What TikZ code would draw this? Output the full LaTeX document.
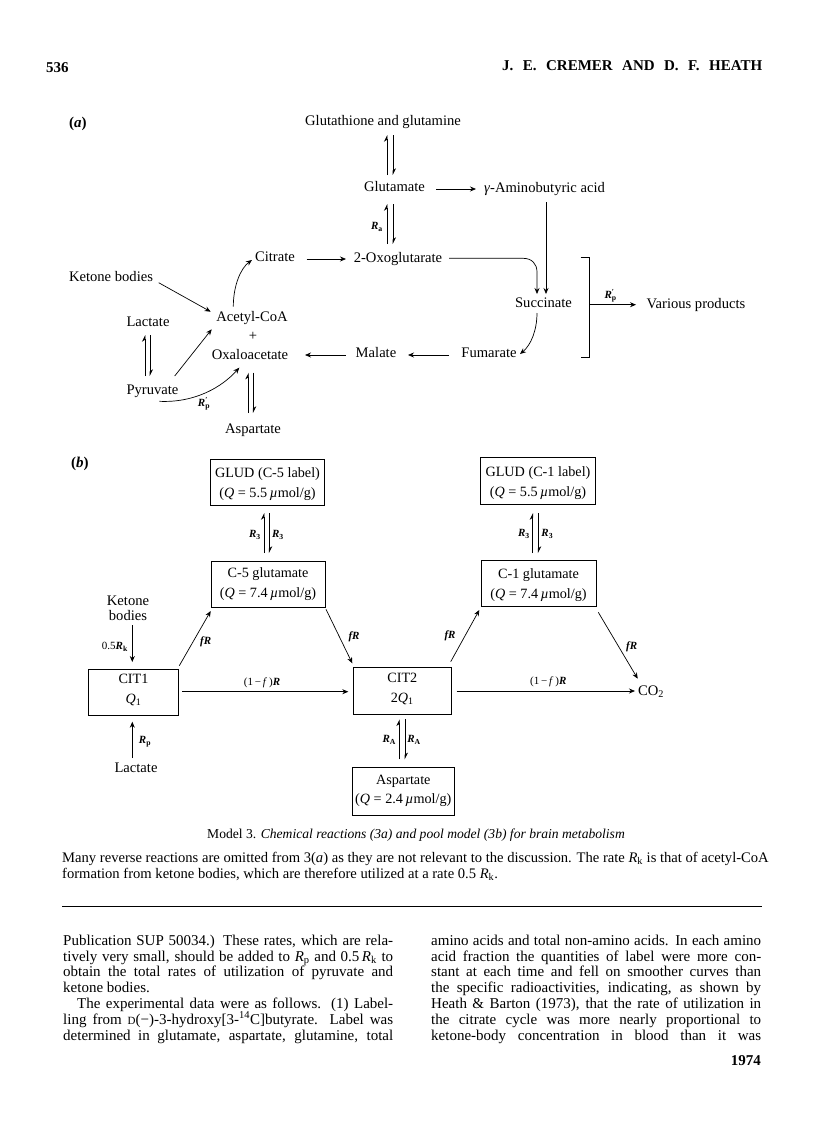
\documentclass[tikz,border=0pt]{standalone}
\usepackage{fontspec}
\setmainfont{Liberation Serif}
\usetikzlibrary{arrows.meta}
\newcommand{\Rsym}[1]{\textit{\textbf{R}}\textsubscript{\textbf{#1}}}
\newcommand{\Rpr}{\textit{\textbf{R}}\rlap{\textsuperscript{\textbf{′}}}\textsubscript{\textbf{p}}}
\newcommand{\fR}{\textit{\textbf{fR}}}
\newcommand{\oneminus}{(1\,−\,\textit{f}\,)\textit{\textbf{R}}}
\tikzset{
  x=1pt,y=-1pt,
  lbl/.style={inner sep=0pt,font=\fontsize{14.6}{15}\selectfont,text height=10pt,text depth=3pt},
  stack/.style={inner sep=0pt,font=\fontsize{14.6}{15}\selectfont,align=center},
  rate/.style={inner sep=0pt,font=\fontsize{11}{12}\selectfont},
  pool/.style={draw,line width=0.8pt,inner sep=0pt,align=center,font=\fontsize{14.2}{17}\selectfont},
  body/.style={inner sep=0pt,anchor=base west,font=\fontsize{15}{16}\selectfont},
  heading/.style={inner sep=0pt,anchor=base west,font=\fontsize{15}{16}\bfseries\selectfont},
  flow/.style={line width=0.7pt,-{Stealth[length=6pt,width=5pt]}},
  half/.style={line width=0.7pt,-{Stealth[length=6pt,width=6pt,left]}}
}
\newcommand{\jline}[1]{\makebox[330pt][s]{#1}}
\begin{document}
\begin{tikzpicture}
\useasboundingbox (0,0) rectangle (816,1136);
% running head
\node[heading] (folio) at (46,72) {536};
\node[heading] (authors) at (502,70) {\makebox[260pt][s]{J. E. CREMER AND D. F. HEATH}};

% panel (a): reaction scheme
\node[heading] (tagA) at (69,127) {(\textit{a})};
\node[lbl] (gg) at (383,121.5) {Glutathione and glutamine};
\node[lbl] (glu) at (394.5,188) {Glutamate};
\node[lbl] (gaba) at (544.5,188.5) {\textit{γ}-Aminobutyric acid};
\node[lbl] (oxo) at (398,258.5) {2-Oxoglutarate};
\node[lbl] (cit) at (275,258) {Citrate};
\node[lbl] (ket) at (111,277.7) {Ketone bodies};
\node[lbl] (lac) at (148,323) {Lactate};
\node[lbl] (acoa) at (252,318) {Acetyl-CoA};
\node[lbl] (plus) at (253,337) {+};
\node[lbl] (oaa) at (250,355.7) {Oxaloacetate};
\node[lbl] (mal) at (376,354) {Malate};
\node[lbl] (fum) at (489,354) {Fumarate};
\node[lbl] (suc) at (543.5,304) {Succinate};
\node[lbl] (pyr) at (152.5,390.5) {Pyruvate};
\node[lbl] (asp) at (253,429.5) {Aspartate};
\node[lbl] (var) at (696,304.5) {Various products};
\coordinate (brk) at (589,304.7);

\draw[half] ([shift={(-7.5,-13)}]glu.center) -- ([shift={(4,13.5)}]gg.center);
\draw[half] ([shift={(10,13.5)}]gg.center) -- ([shift={(-1.5,-13)}]glu.center);
\draw[half] ([shift={(-11,-14.5)}]oxo.center) -- ([shift={(-7.5,16)}]glu.center);
\draw[half] ([shift={(-1.5,16)}]glu.center) -- ([shift={(-5,-14.5)}]oxo.center);
\node[rate] (Ra) at (377,227) {\Rsym{a}};
\draw[flow] ([shift={(41.5,1)}]glu.center) -- ([shift={(-68.5,0.5)}]gaba.center);
\draw[flow] ([shift={(31.7,1)}]cit.center) -- ([shift={(-52,0.5)}]oxo.center);
\draw[flow] ([shift={(47.7,5)}]ket.center) -- ([shift={(-41.3,-6.3)}]acoa.center);
\draw[flow] ([shift={(22.2,-14.5)}]pyr.center) -- ([shift={(-40.3,11.3)}]acoa.center);
\draw[half] ([shift={(-7.5,-14.5)}]pyr.center) -- ([shift={(-3,12)}]lac.center);
\draw[half] ([shift={(2,12)}]lac.center) -- ([shift={(-2.5,-14.5)}]pyr.center);
\draw[flow] ([shift={(6.8,10.8)}]pyr.center) .. controls (195,403) and (222,387) .. ([shift={(-10.7,12)}]oaa.center);
\node[rate] (RpA) at (204,404) {\Rpr};
\draw[flow] ([shift={(-18.7,-11.3)}]acoa.center) .. controls (233.3,285) and (241,268) .. ([shift={(-23,2)}]cit.center);
\draw[half] ([shift={(-4.7,-16.5)}]asp.center) -- ([shift={(-1.7,17)}]oaa.center);
\draw[half] ([shift={(3.3,17)}]oaa.center) -- ([shift={(0.3,-16.5)}]asp.center);
\draw[flow] ([shift={(-30.3,1)}]mal.center) -- ([shift={(55,-0.7)}]oaa.center);
\draw[flow] ([shift={(-40,1)}]fum.center) -- ([shift={(32,1)}]mal.center);
\draw[flow] ([shift={(51,-0.2)}]oxo.center) -- (523,258.3) .. controls (532,258.3) and (537,264) .. (537,272) -- ([shift={(-6.5,-10)}]suc.center);
\draw[flow] ([shift={(1.5,13.5)}]gaba.center) -- ([shift={(2.5,-10)}]suc.center);
\draw[flow] ([shift={(-6.5,9)}]suc.center) .. controls (537,330) and (531,345) .. ([shift={(31,0)}]fum.center);
\draw[line width=0.8pt] (580.7,257.3) -- (589,257.3) -- (589,357) -- (580.7,357);
\draw[flow] (brk) -- ([shift={(-60,0.2)}]var.center);
\node[rate] (RpB) at (610.7,296) {\Rpr};

% panel (b): pool model
\node[heading] (tagB) at (71,467) {(\textit{b})};
\node[pool,minimum width=114.3pt,minimum height=46pt] (g5) at (267.5,482) {\rule{0pt}{14pt}GLUD (C-5 label)\\[3pt](\textit{Q} = 5.5\,\textit{µ}mol/g)};
\node[pool,minimum width=114pt,minimum height=45.5pt] (c5) at (268,584.4) {C-5 glutamate\\[3pt](\textit{Q} = 7.4\,\textit{µ}mol/g)};
\node[pool,minimum width=89.6pt,minimum height=46pt] (cit1) at (133.5,692) {CIT1\\[3pt]\rule[-7pt]{0pt}{0pt}\textit{Q}\textsubscript{1}};
\node[pool,minimum width=98.7pt,minimum height=47pt] (cit2) at (402.3,690.5) {CIT2\\[3pt]\rule[-6pt]{0pt}{0pt}2\textit{Q}\textsubscript{1}};
\node[pool,minimum width=114.3pt,minimum height=46.3pt] (g1) at (538,481) {\rule{0pt}{14pt}GLUD (C-1 label)\\[3pt](\textit{Q} = 5.5\,\textit{µ}mol/g)};
\node[pool,minimum width=115pt,minimum height=46.7pt] (c1) at (538.5,583.3) {\rule{0pt}{13pt}C-1 glutamate\\[3pt](\textit{Q} = 7.4\,\textit{µ}mol/g)};
\node[pool,minimum width=101.3pt,minimum height=48.7pt] (aspb) at (403.3,791.3) {Aspartate\\[2pt](\textit{Q} = 2.4\,\textit{µ}mol/g)};
\node[stack] (ketb) at (128,608) {Ketone\\bodies};
\node[lbl] (lacb) at (136,769) {Lactate};
\node[stack] (co2) at (651,691.7) {CO\textsubscript{2}};

\draw[half] ([shift={(-4,-31.4)}]c5.center) -- ([shift={(-3.5,31)}]g5.center);
\draw[half] ([shift={(1.8,31)}]g5.center) -- ([shift={(1.3,-31.4)}]c5.center);
\node[rate] (r3a) at (255,535) {\Rsym{3}};
\node[rate] (r3b) at (278,535) {\Rsym{3}};
\draw[half] ([shift={(-5.8,-30.3)}]c1.center) -- ([shift={(-5.3,32)}]g1.center);
\draw[half] ([shift={(0.3,32)}]g1.center) -- ([shift={(-0.2,-30.3)}]c1.center);
\node[rate] (r3c) at (524,534) {\Rsym{3}};
\node[rate] (r3d) at (547.3,534) {\Rsym{3}};
\draw[flow] ([shift={(4.3,17)}]ketb.center) -- ([shift={(-1.2,-30)}]cit1.center);
\node[rate,anchor=east] (rk) at (128,646.7) {0.5\Rsym{k}};
\draw[flow] ([shift={(-3.7,-11)}]lacb.center) -- ([shift={(-1.2,29.7)}]cit1.center);
\node[rate] (rp) at (145,742) {\Rsym{p}};
\draw[flow] ([shift={(45.8,-26.3)}]cit1.center) -- ([shift={(-57.3,26.6)}]c5.center);
\node[rate] (f1) at (205.7,641.7) {\fR};
\draw[flow] ([shift={(58,24.9)}]c5.center) -- ([shift={(-50,-27.2)}]cit2.center);
\node[rate] (f2) at (354,636.7) {\fR};
\draw[flow] ([shift={(48.8,-0.3)}]cit1.center) -- ([shift={(-54,1.2)}]cit2.center);
\node[rate] (m1) at (262,683) {\oneminus};
\draw[flow] ([shift={(48.4,-28.8)}]cit2.center) -- ([shift={(-59.2,26.7)}]c1.center);
\node[rate] (f3) at (450,636) {\fR};
\draw[flow] ([shift={(59.8,29)}]c1.center) -- ([shift={(-13.3,-13)}]co2.center);
\node[rate] (f4) at (631.7,646.7) {\fR};
\draw[flow] ([shift={(54.4,0.5)}]cit2.center) -- ([shift={(-16,-0.7)}]co2.center);
\node[rate] (m2) at (548.3,681.7) {\oneminus};
\draw[half] ([shift={(-4,-32)}]aspb.center) -- ([shift={(-3,28.8)}]cit2.center);
\draw[half] ([shift={(2.7,28.8)}]cit2.center) -- ([shift={(1.7,-32)}]aspb.center);
\node[rate] (ra1) at (389.3,740) {\Rsym{A}};
\node[rate] (ra2) at (414,740) {\Rsym{A}};

% caption and page text
\node[inner sep=0pt,font=\fontsize{13.6}{15}\itshape\selectfont] (cap) at (416,835) {\textup{Model 3.} Chemical reactions (3\textit{a}) and pool model (3\textit{b}) for brain metabolism};
\node[body,font=\fontsize{14.6}{16}\selectfont] (n1) at (62,862) {Many reverse reactions are omitted from 3(\textit{a}) as they are not relevant to the discussion. The rate \textit{R}\textsubscript{k} is that of acetyl-CoA};
\node[body,font=\fontsize{14.6}{16}\selectfont] (n2) at (62,878) {formation from ketone bodies, which are therefore utilized at a rate 0.5 \textit{R}\textsubscript{k}.};
\draw[line width=0.6pt] (62,906) -- (762,906);

\node[body] (a1) at (63,945) {\jline{Publication SUP 50034.) These rates, which are rela-}};
\node[body] (a2) at (63,961) {\jline{tively very small, should be added to \textit{R}\textsubscript{p} and 0.5\,\textit{R}\textsubscript{k} to}};
\node[body] (a3) at (63,976.5) {\jline{obtain the total rates of utilization of pyruvate and}};
\node[body] (a4) at (63,992) {ketone bodies.};
\node[body] (a5) at (77,1008) {\makebox[316pt][s]{The experimental data were as follows. (1) Label-}};
\node[body] (a6) at (63,1024) {\jline{ling from {\fontsize{11}{12}\selectfont D}(−)-3-hydroxy[3-\textsuperscript{14}C]butyrate. Label was}};
\node[body] (a7) at (63,1040) {\jline{determined in glutamate, aspartate, glutamine, total}};

\node[body] (b1) at (431,945) {\jline{amino acids and total non-amino acids. In each amino}};
\node[body] (b2) at (431,961) {\jline{acid fraction the quantities of label were more con-}};
\node[body] (b3) at (431,976.5) {\jline{stant at each time and fell on smoother curves than}};
\node[body] (b4) at (431,992) {\jline{the specific radioactivities, indicating, as shown by}};
\node[body] (b5) at (431,1008) {\jline{Heath \& Barton (1973), that the rate of utilization in}};
\node[body] (b6) at (431,1024) {\jline{the citrate cycle was more nearly proportional to}};
\node[body] (b7) at (431,1040) {\jline{ketone-body concentration in blood than it was}};
\node[heading,anchor=base east] (year) at (761,1065) {1974};
\end{tikzpicture}
\end{document}
